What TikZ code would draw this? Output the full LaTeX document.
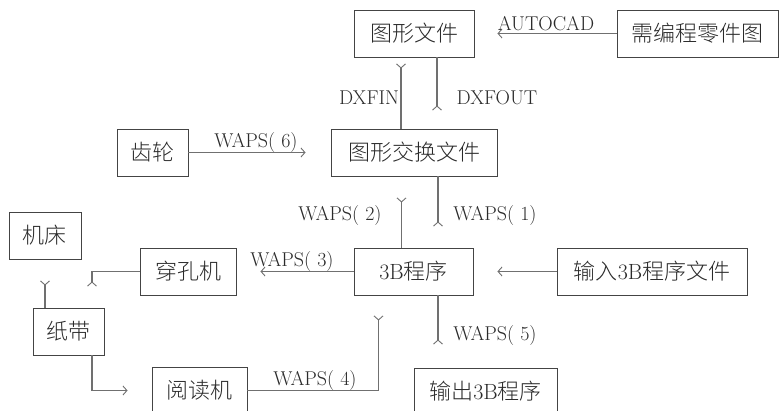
\documentclass[tikz,border=0pt]{standalone}
\usepackage{fontspec}
\newfontfamily\cjk{Noto Sans CJK SC Light}
\usetikzlibrary{arrows.meta}
\definecolor{txt}{HTML}{2A2A2A}
\definecolor{ln}{HTML}{707070}
\definecolor{bd}{HTML}{444444}
\tikzset{
  box/.style={draw=bd, line width=0.9pt, inner sep=0pt, minimum height=47pt, text=txt, font=\fontsize{22}{26}\selectfont\cjk},
  conn/.style={draw=ln, line width=1.2pt},
  fwd/.style={conn, -{Straight Barb[length=4pt,width=9pt,line width=0.9pt]}},
  rev/.style={conn, -{Straight Barb[reversed,length=4pt,width=9pt,line width=0.9pt]}},
  lab/.style={text=txt, inner sep=0pt, font=\fontsize{20}{23}\selectfont}
}
\begin{document}
\begin{tikzpicture}[x=1pt,y=-1pt]
\useasboundingbox (0,0) rectangle (779,410);
\clip (0,0) rectangle (779,410);
% boxes
\node[box, minimum width=120pt] (tuxing) at (414,33.5) {图形文件};
\node[box, minimum width=161pt] (xu) at (697.5,33.5) {需编程零件图};
\node[box, minimum width=166pt] (jiaohuan) at (414,152.5) {图形交换文件};
\node[box, minimum width=71pt] (chilun) at (152.5,152.5) {齿轮};
\node[box, minimum width=119pt] (sanb) at (413.5,271.5) {{\rmfamily 3B}程序};
\node[box, minimum width=96pt] (chuankong) at (188,271.5) {穿孔机};
\node[box, minimum width=190pt] (shuru) at (652,271.5) {输入{\rmfamily 3B}程序文件};
\node[box, minimum width=72pt] (jichuang) at (45,235.5) {机床};
\node[box, minimum width=71pt] (zhidai) at (68.5,331.5) {纸带};
\node[box, minimum width=95pt] (yuedu) at (199.5,390.5) {阅读机};
\node[box, minimum width=143pt] (shuchu) at (485.5,391.5) {输出{\rmfamily 3B}程序};
% connectors
\draw[fwd, shorten >=23pt] (xu.west) -- (tuxing.east);
\node[lab] (lautocad) at (546,24) {AUTOCAD};
\draw[rev, shorten >=6pt] ([xshift=-13pt]jiaohuan.north) -- ([xshift=-13pt]tuxing.south);
\node[lab] (ldxfin) at (369,98) {DXFIN};
\draw[rev, shorten >=18pt] ([xshift=23pt]tuxing.south) -- ([xshift=23pt]jiaohuan.north);
\node[lab] (ldxfout) at (497,98) {DXFOUT};
\draw[fwd, shorten >=25pt] (chilun.east) -- (jiaohuan.west);
\node[lab] (l6) at (256,143) {WAPS( 6)};
\draw[rev, shorten >=21pt] ([xshift=-12pt]sanb.north) -- ([xshift=-12.5pt]jiaohuan.south);
\node[lab] (l2) at (340,216) {WAPS( 2)};
\draw[rev, shorten >=21pt] ([xshift=24pt]jiaohuan.south) -- ([xshift=24.5pt]sanb.north);
\node[lab] (l1) at (495,216) {WAPS( 1)};
\draw[fwd, shorten >=24pt] (sanb.west) -- (chuankong.east);
\node[lab] (l3) at (292,262) {WAPS( 3)};
\draw[fwd, shorten >=24pt] (shuru.west) -- (sanb.east);
\draw[rev, shorten >=21pt] (zhidai.north -| jichuang.south) -- (jichuang.south);
\draw[rev, shorten >=21pt] (chuankong.west) -| ([xshift=23.5pt]zhidai.north);
\draw[fwd, shorten >=24pt] ([xshift=23.5pt]zhidai.south) |- (yuedu.west);
\draw[rev, shorten >=20pt] (yuedu.east) -| ([xshift=-35pt]sanb.south);
\node[lab] (l4) at (315,381) {WAPS( 4)};
\coordinate (p5) at ([xshift=24.5pt]sanb.south);
\draw[rev, shorten >=23pt] (p5) -- (p5 |- shuchu.north);
\node[lab] (l5) at (495,336) {WAPS( 5)};
\end{tikzpicture}
\end{document}
